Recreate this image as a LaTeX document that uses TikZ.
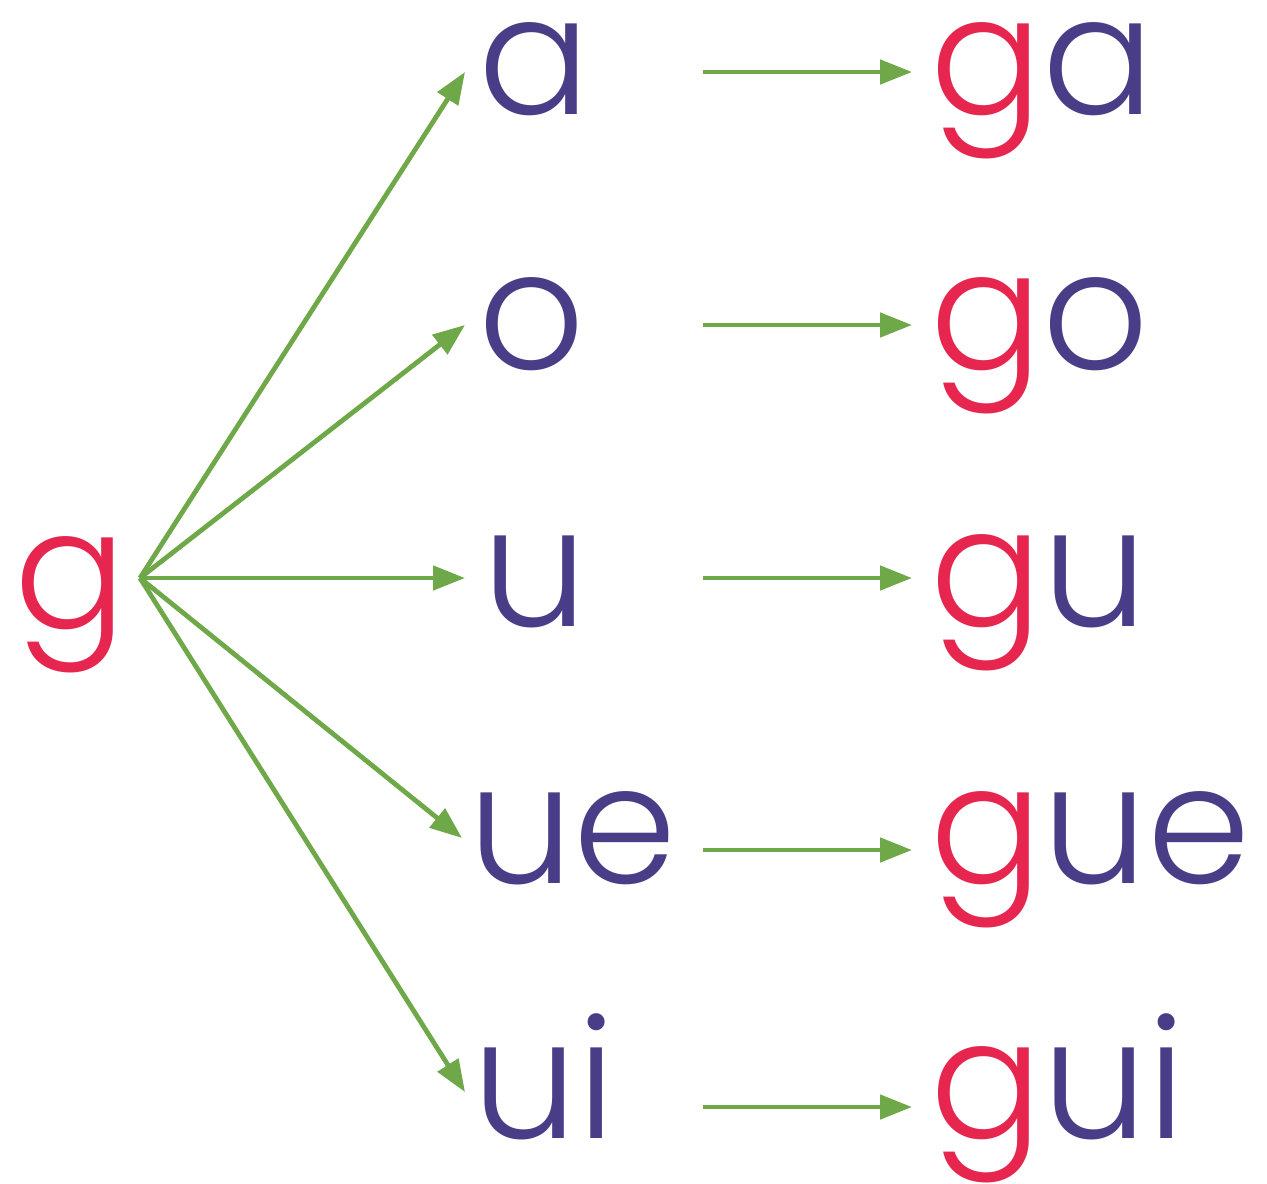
\documentclass[tikz,border=0pt]{standalone}
\usepackage{fontspec}
\setmainfont{Poppins}[UprightFont={* Light}]
\usetikzlibrary{arrows.meta}
\definecolor{gred}{HTML}{E6264F}
\definecolor{vpurple}{HTML}{4A3D87}
\definecolor{agreen}{HTML}{6FA848}
\begin{document}
\begin{tikzpicture}[x=0.5pt,y=-0.5pt,
  letter/.style={inner sep=0pt,anchor=base west,font=\fontsize{83}{88}\selectfont},
  arr/.style={draw=agreen,line width=2.4pt,-{Triangle[length=16pt,width=12pt]}}]
\useasboundingbox (0,0) rectangle (1267,1183);
\node[letter,text=gred] (g) at (14,628) {g};
\coordinate (hub) at (140,578);
\node[letter,text=vpurple] (a) at (478,114) {a};
\node[letter,text=vpurple] (o) at (478,369) {o};
\node[letter,text=vpurple] (u) at (482,626) {u};
\node[letter,text=vpurple] (ue) at (468,883) {ue};
\node[letter,text=vpurple] (ui) at (472,1138) {ui};
\coordinate (ea) at (465,72);
\coordinate (eo) at (465,325);
\coordinate (eu) at (465,578);
\coordinate (eue) at (462,838);
\coordinate (eui) at (465,1092);
\draw[arr] (hub) -- (ea);
\draw[arr] (hub) -- (eo);
\draw[arr] (hub) -- (eu);
\draw[arr] (hub) -- (eue);
\draw[arr] (hub) -- (eui);
\node[letter] (ga) at (930,114) {\textcolor{gred}{g}\textcolor{vpurple}{a}};
\node[letter] (go) at (930,369) {\textcolor{gred}{g}\textcolor{vpurple}{o}};
\node[letter] (gu) at (930,626) {\textcolor{gred}{g}\textcolor{vpurple}{u}};
\node[letter] (gue) at (930,883) {\textcolor{gred}{g}\textcolor{vpurple}{ue}};
\node[letter] (gui) at (930,1138) {\textcolor{gred}{g}\textcolor{vpurple}{ui}};
\coordinate (sa) at (703,72);  \coordinate (ta) at (912,72);
\coordinate (so) at (703,325); \coordinate (to) at (912,325);
\coordinate (su) at (703,578); \coordinate (tu) at (912,578);
\coordinate (sue) at (703,850); \coordinate (tue) at (912,850);
\coordinate (sui) at (703,1107); \coordinate (tui) at (912,1107);
\draw[arr] (sa) -- (ta);
\draw[arr] (so) -- (to);
\draw[arr] (su) -- (tu);
\draw[arr] (sue) -- (tue);
\draw[arr] (sui) -- (tui);
\end{tikzpicture}
\end{document}
